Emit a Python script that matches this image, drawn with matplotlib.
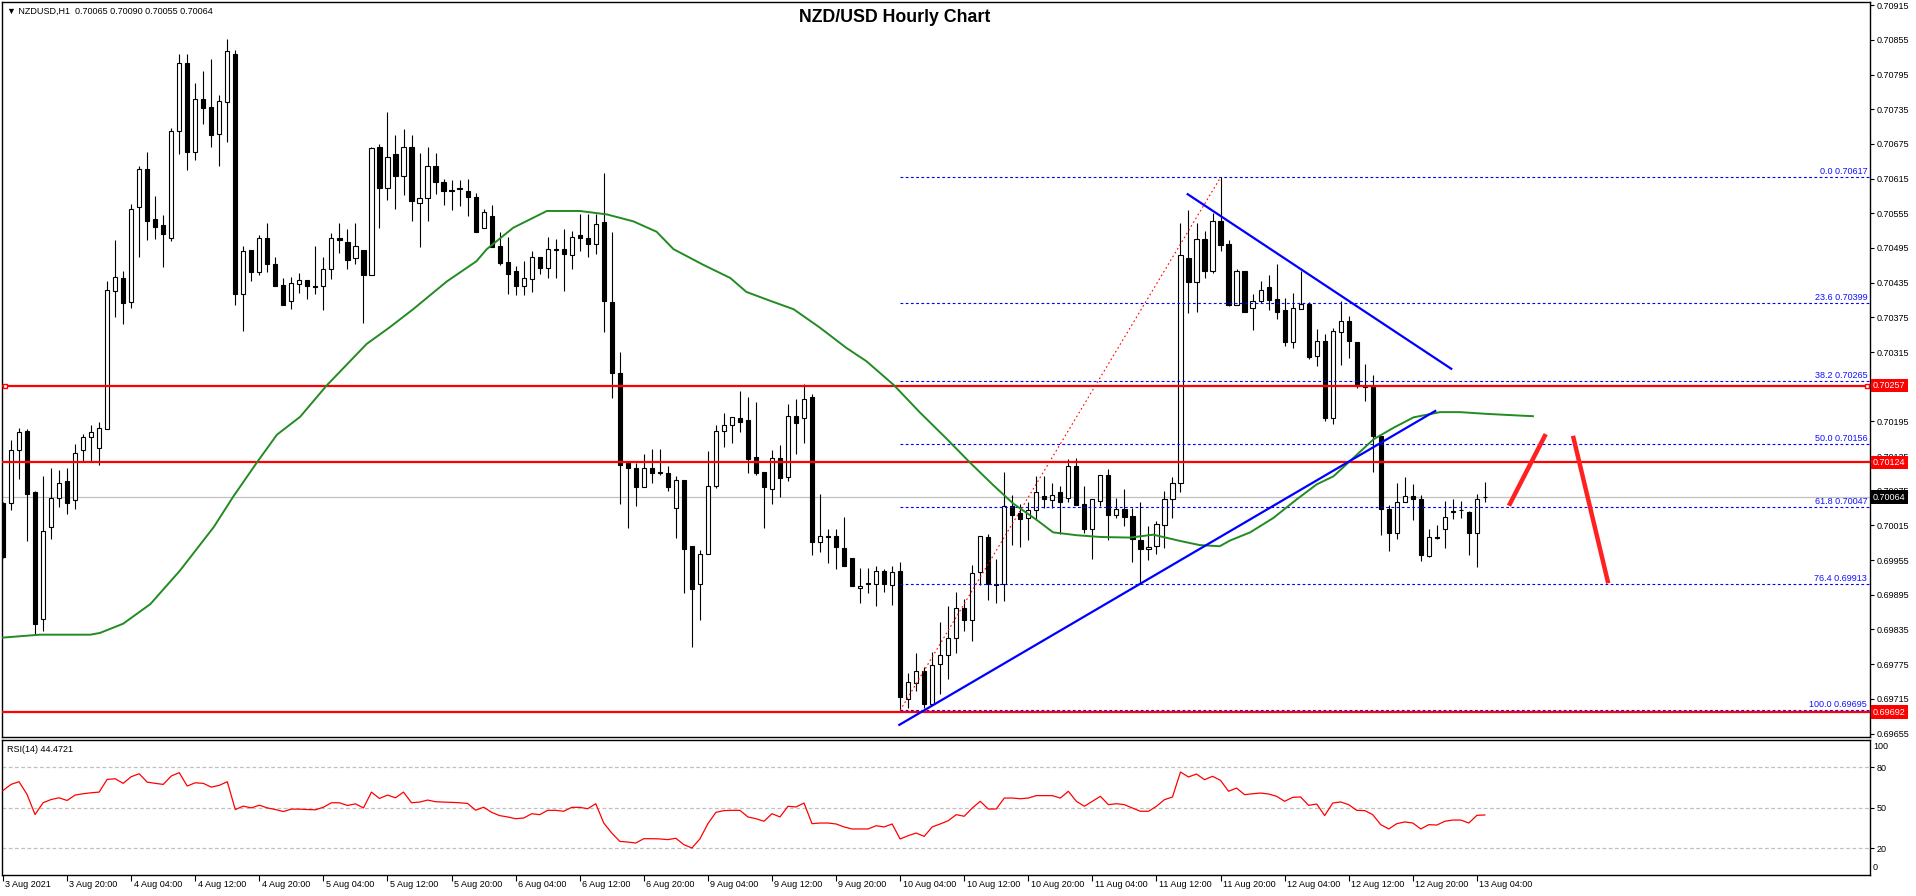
import matplotlib
matplotlib.use('Agg')
import matplotlib.pyplot as plt
from matplotlib.transforms import blended_transform_factory

plt.rcParams['font.family'] = ['Liberation Sans', 'DejaVu Sans']

# ---- hourly candles NZDUSD, 3 Aug 12:00 .. 13 Aug 05:00 (186 bars) ----
opens = [
    0.70053, 0.70053, 0.70146, 0.70179, 0.70073, 0.69853, 0.70012, 0.70063, 0.70092, 0.70059,
    0.70145, 0.70168, 0.70149, 0.70182, 0.70420, 0.70443, 0.70402, 0.70566, 0.70631, 0.70545,
    0.70535, 0.70513, 0.70697, 0.70815, 0.70661, 0.70752, 0.70738, 0.70692, 0.70748, 0.70831,
    0.70416, 0.70491, 0.70453, 0.70513, 0.70467, 0.70431, 0.70404, 0.70433, 0.70439, 0.70430,
    0.70429, 0.70458, 0.70512, 0.70506, 0.70477, 0.70491, 0.70448, 0.70670, 0.70598, 0.70657,
    0.70620, 0.70670, 0.70572, 0.70581, 0.70636, 0.70609, 0.70595, 0.70598, 0.70593, 0.70583,
    0.70530, 0.70550, 0.70499, 0.70470, 0.70456, 0.70430, 0.70441, 0.70480, 0.70460, 0.70491,
    0.70494, 0.70483, 0.70517, 0.70513, 0.70502, 0.70540, 0.70401, 0.70279, 0.70123, 0.70114,
    0.70081, 0.70115, 0.70107, 0.70105, 0.70045, 0.70093, 0.69979, 0.69914, 0.69966, 0.70084,
    0.70178, 0.70189, 0.70200, 0.70197, 0.70133, 0.70107, 0.70078, 0.70132, 0.70098, 0.70204,
    0.70201, 0.70237, 0.69987, 0.69996, 0.69997, 0.69976, 0.69958, 0.69906, 0.69915, 0.69913,
    0.69936, 0.69912, 0.69936, 0.69714, 0.69742, 0.69764, 0.69706, 0.69775, 0.69790, 0.69820,
    0.69873, 0.69852, 0.69934, 0.69995, 0.69914, 0.69914, 0.70048, 0.70036, 0.70027, 0.70041,
    0.70066, 0.70059, 0.70073, 0.70062, 0.70118, 0.70052, 0.70009, 0.70057, 0.70102, 0.70033,
    0.70044, 0.70032, 0.69990, 0.69974, 0.69979, 0.70015, 0.70061, 0.70089, 0.70477, 0.70436,
    0.70510, 0.70455, 0.70542, 0.70501, 0.70396, 0.70456, 0.70391, 0.70403, 0.70428, 0.70406,
    0.70387, 0.70332, 0.70390, 0.70398, 0.70308, 0.70334, 0.70201, 0.70350, 0.70368, 0.70333,
    0.70256, 0.70256, 0.70170, 0.70044, 0.70002, 0.70056, 0.70066, 0.70060, 0.69962, 0.69995,
    0.70009, 0.70039, 0.70041, 0.70038, 0.70002, 0.70065]
highs = [
    0.70056, 0.70162, 0.70184, 0.70182, 0.70075, 0.70100, 0.70114, 0.70111, 0.70115, 0.70156,
    0.70174, 0.70188, 0.70194, 0.70438, 0.70509, 0.70455, 0.70571, 0.70637, 0.70661, 0.70585,
    0.70552, 0.70702, 0.70830, 0.70830, 0.70780, 0.70801, 0.70822, 0.70760, 0.70857, 0.70838,
    0.70499, 0.70491, 0.70518, 0.70538, 0.70480, 0.70443, 0.70445, 0.70452, 0.70439, 0.70498,
    0.70479, 0.70521, 0.70539, 0.70528, 0.70539, 0.70492, 0.70670, 0.70675, 0.70731, 0.70690,
    0.70700, 0.70690, 0.70660, 0.70670, 0.70660, 0.70614, 0.70612, 0.70612, 0.70614, 0.70590,
    0.70562, 0.70569, 0.70522, 0.70514, 0.70463, 0.70472, 0.70489, 0.70480, 0.70514, 0.70510,
    0.70527, 0.70525, 0.70554, 0.70553, 0.70553, 0.70625, 0.70523, 0.70315, 0.70124, 0.70123,
    0.70138, 0.70148, 0.70147, 0.70117, 0.70100, 0.70093, 0.69979, 0.69972, 0.70144, 0.70188,
    0.70210, 0.70203, 0.70247, 0.70237, 0.70228, 0.70107, 0.70145, 0.70155, 0.70225, 0.70233,
    0.70260, 0.70243, 0.70070, 0.70009, 0.70009, 0.70030, 0.69958, 0.69942, 0.69942, 0.69944,
    0.69939, 0.69944, 0.69952, 0.69760, 0.69794, 0.69770, 0.69796, 0.69848, 0.69876, 0.69899,
    0.69887, 0.69947, 0.69997, 0.70000, 0.69957, 0.70107, 0.70068, 0.70052, 0.70056, 0.70100,
    0.70100, 0.70089, 0.70083, 0.70130, 0.70132, 0.70083, 0.70060, 0.70102, 0.70113, 0.70062,
    0.70078, 0.70046, 0.70056, 0.70014, 0.70022, 0.70075, 0.70099, 0.70538, 0.70560, 0.70538,
    0.70524, 0.70555, 0.70617, 0.70508, 0.70458, 0.70456, 0.70416, 0.70438, 0.70449, 0.70468,
    0.70408, 0.70417, 0.70455, 0.70401, 0.70354, 0.70347, 0.70357, 0.70403, 0.70378, 0.70333,
    0.70295, 0.70276, 0.70170, 0.70051, 0.70089, 0.70098, 0.70087, 0.70067, 0.70008, 0.70015,
    0.70057, 0.70060, 0.70057, 0.70040, 0.70070, 0.70090]
lows = [
    0.69959, 0.70042, 0.70096, 0.69988, 0.69827, 0.69832, 0.69991, 0.70047, 0.70035, 0.70044,
    0.70126, 0.70126, 0.70119, 0.70182, 0.70376, 0.70363, 0.70392, 0.70480, 0.70508, 0.70511,
    0.70462, 0.70507, 0.70657, 0.70630, 0.70648, 0.70709, 0.70670, 0.70637, 0.70678, 0.70397,
    0.70351, 0.70437, 0.70449, 0.70454, 0.70430, 0.70397, 0.70389, 0.70417, 0.70407, 0.70416,
    0.70387, 0.70441, 0.70487, 0.70458, 0.70467, 0.70366, 0.70448, 0.70530, 0.70578, 0.70562,
    0.70586, 0.70542, 0.70496, 0.70541, 0.70589, 0.70569, 0.70560, 0.70568, 0.70550, 0.70522,
    0.70530, 0.70497, 0.70466, 0.70416, 0.70413, 0.70413, 0.70418, 0.70450, 0.70443, 0.70443,
    0.70420, 0.70458, 0.70490, 0.70480, 0.70484, 0.70350, 0.70236, 0.70052, 0.70011, 0.70049,
    0.70081, 0.70089, 0.70103, 0.70075, 0.69993, 0.69898, 0.69804, 0.69852, 0.69966, 0.70079,
    0.70150, 0.70158, 0.70176, 0.70105, 0.70103, 0.70011, 0.70052, 0.70065, 0.70092, 0.70138,
    0.70158, 0.69963, 0.69969, 0.69950, 0.69939, 0.69945, 0.69910, 0.69880, 0.69898, 0.69875,
    0.69899, 0.69877, 0.69695, 0.69700, 0.69729, 0.69700, 0.69706, 0.69724, 0.69749, 0.69795,
    0.69833, 0.69815, 0.69912, 0.69886, 0.69881, 0.69885, 0.69982, 0.69978, 0.69989, 0.70024,
    0.70046, 0.70045, 0.70001, 0.70056, 0.70051, 0.70002, 0.69957, 0.70048, 0.69989, 0.70027,
    0.70014, 0.69952, 0.69913, 0.69955, 0.69965, 0.69976, 0.70028, 0.70073, 0.70382, 0.70384,
    0.70443, 0.70452, 0.70489, 0.70395, 0.70396, 0.70384, 0.70353, 0.70399, 0.70387, 0.70372,
    0.70325, 0.70322, 0.70390, 0.70303, 0.70290, 0.70195, 0.70191, 0.70292, 0.70305, 0.70252,
    0.70230, 0.70107, 0.69998, 0.69970, 0.69991, 0.70056, 0.70024, 0.69953, 0.69960, 0.69991,
    0.69976, 0.70026, 0.70028, 0.69963, 0.69943, 0.70055]
closes = [
    0.69960, 0.70146, 0.70177, 0.70070, 0.69845, 0.70006, 0.70063, 0.70088, 0.70053, 0.70141,
    0.70168, 0.70177, 0.70184, 0.70422, 0.70445, 0.70399, 0.70562, 0.70631, 0.70542, 0.70531,
    0.70520, 0.70698, 0.70815, 0.70661, 0.70752, 0.70737, 0.70690, 0.70750, 0.70835, 0.70416,
    0.70489, 0.70453, 0.70512, 0.70467, 0.70430, 0.70397, 0.70434, 0.70439, 0.70429, 0.70428,
    0.70458, 0.70512, 0.70508, 0.70475, 0.70499, 0.70448, 0.70668, 0.70598, 0.70653, 0.70620,
    0.70670, 0.70577, 0.70581, 0.70636, 0.70609, 0.70593, 0.70593, 0.70597, 0.70584, 0.70522,
    0.70558, 0.70497, 0.70469, 0.70450, 0.70430, 0.70443, 0.70480, 0.70460, 0.70494, 0.70494,
    0.70484, 0.70514, 0.70513, 0.70502, 0.70536, 0.70404, 0.70279, 0.70119, 0.70114, 0.70082,
    0.70115, 0.70106, 0.70105, 0.70081, 0.70093, 0.69975, 0.69905, 0.69966, 0.70084, 0.70178,
    0.70189, 0.70203, 0.70194, 0.70130, 0.70106, 0.70082, 0.70132, 0.70097, 0.70204, 0.70193,
    0.70233, 0.69987, 0.69996, 0.69995, 0.69977, 0.69945, 0.69910, 0.69910, 0.69914, 0.69936,
    0.69913, 0.69935, 0.69718, 0.69744, 0.69764, 0.69706, 0.69773, 0.69790, 0.69820, 0.69873,
    0.69851, 0.69932, 0.69997, 0.69913, 0.69912, 0.70048, 0.70033, 0.70026, 0.70041, 0.70073,
    0.70060, 0.70067, 0.70056, 0.70118, 0.70051, 0.70009, 0.70060, 0.70102, 0.70033, 0.70044,
    0.70030, 0.69992, 0.69974, 0.69978, 0.70017, 0.70061, 0.70089, 0.70482, 0.70436, 0.70510,
    0.70455, 0.70542, 0.70500, 0.70397, 0.70456, 0.70384, 0.70403, 0.70422, 0.70405, 0.70384,
    0.70332, 0.70391, 0.70398, 0.70306, 0.70334, 0.70201, 0.70351, 0.70368, 0.70334, 0.70256,
    0.70254, 0.70169, 0.70043, 0.70002, 0.70056, 0.70066, 0.70060, 0.69963, 0.69995, 0.69994,
    0.70030, 0.70040, 0.70042, 0.70002, 0.70061, 0.70064]

# RSI(14), one value per bar
rsi_vals = [
    62.6, 67.1, 69.1, 59.7, 44.8, 53.5, 55.9, 57.2, 55.2, 59.2,
    60.2, 60.9, 61.4, 70.8, 71.3, 67.9, 72.8, 75.0, 68.8, 67.9,
    67.1, 73.3, 75.8, 65.9, 68.3, 67.9, 65.1, 66.4, 69.1, 48.5,
    51.0, 49.7, 51.7, 49.7, 48.5, 47.0, 48.8, 48.8, 48.5, 48.3,
    50.2, 53.5, 53.5, 51.5, 52.7, 49.7, 61.4, 56.7, 59.2, 57.2,
    61.4, 53.5, 54.0, 55.5, 54.3, 54.0, 53.8, 53.5, 53.0, 48.0,
    50.2, 46.4, 44.0, 43.0, 41.7, 42.2, 45.4, 44.7, 47.9, 47.9,
    47.2, 50.1, 50.1, 49.1, 52.8, 38.5, 31.1, 24.9, 24.4, 23.7,
    26.9, 26.9, 26.7, 26.2, 27.2, 22.5, 20.0, 26.7, 38.0, 46.4,
    47.7, 47.9, 47.9, 43.0, 41.7, 39.8, 45.4, 43.0, 50.9, 50.4,
    53.3, 38.0, 38.5, 38.5, 37.8, 35.6, 34.1, 34.1, 34.1, 36.5,
    35.6, 37.8, 26.7, 29.1, 31.1, 28.6, 35.6, 37.8, 40.2, 44.7,
    43.5, 49.6, 54.6, 48.9, 48.9, 57.0, 57.0, 56.5, 57.0, 58.8,
    58.8, 58.8, 57.0, 62.0, 54.6, 50.9, 54.6, 58.3, 52.1, 52.8,
    52.1, 49.6, 47.2, 47.2, 50.9, 55.8, 57.8, 76.3, 72.6, 74.8,
    70.6, 73.1, 70.1, 62.0, 64.4, 59.5, 60.2, 60.7, 60.0, 58.3,
    54.6, 57.5, 57.8, 51.6, 52.6, 44.0, 53.3, 54.1, 52.1, 47.9,
    47.7, 44.7, 37.3, 34.1, 38.0, 39.3, 38.5, 34.1, 37.3, 37.0,
    39.8, 40.7, 40.7, 38.5, 44.2, 44.47]

# moving average (green), read at bar positions
ma_x = [0, 4.6, 10.9, 12.1, 15, 18.4, 22.1, 26.3, 28.8, 31.7, 34.2, 37.1, 40.4, 45.4, 48.3,
        51.2, 55.4, 59.1, 60.4, 63.7, 67.9, 72.0, 75.4, 78.7, 81.6, 83.7, 87.4, 90.8, 92.8,
        95.7, 98.7, 102, 105.3, 107.8, 111.2, 114.5, 117.8, 120.7, 123.6, 126.1, 129.1, 131.1,
        134.1, 137, 140.7, 143.6, 147, 149.4, 151.9, 153.2, 155.7, 158.6, 161.5, 164, 166.1,
        168.6, 171.1, 173.6, 176.1, 179.4, 181.9, 185.2, 189.4, 191]
ma_y = [0.69821, 0.69826, 0.69826, 0.69829, 0.69845, 0.69879, 0.69937, 0.70012, 0.70066,
        0.70124, 0.70172, 0.70203, 0.70257, 0.70329, 0.70358, 0.70389, 0.70437, 0.70472,
        0.70493, 0.70530, 0.70559, 0.70559, 0.70553, 0.70541, 0.70523, 0.70493, 0.70466,
        0.70443, 0.70419, 0.70404, 0.70389, 0.70357, 0.70322, 0.70299, 0.70258, 0.70210,
        0.70165, 0.70124, 0.70085, 0.70053, 0.70024, 0.70003, 0.69998, 0.69995, 0.69994,
        0.69999, 0.69988, 0.69981, 0.69979, 0.69989, 0.70003, 0.70028, 0.70060, 0.70086,
        0.70100, 0.70132, 0.70164, 0.70184, 0.70202, 0.70211, 0.70211, 0.70208, 0.70205, 0.70204]

# drawn objects
fib_pct = ['0.0', '23.6', '38.2', '50.0', '61.8', '76.4', '100.0']
fib_price = [0.70617, 0.70399, 0.70265, 0.70156, 0.70047, 0.69913, 0.69695]
fib_start = 112
fib_diag_x = [112, 152]
fib_diag_y = [0.69695, 0.70617]
red_levels = [0.70257, 0.70124, 0.69692]
last_price = 0.70064
up_line_x = [111.9, 178.8]
up_line_y = [0.69670, 0.70213]
down_line_x = [147.9, 180.8]
down_line_y = [0.70588, 0.70286]
zig1_x = [188.0, 192.6]
zig1_y = [0.70049, 0.70173]
zig2_x = [196.0, 200.4]
zig2_y = [0.70170, 0.69915]

price_ticks = [0.70915, 0.70855, 0.70795, 0.70735, 0.70675, 0.70615, 0.70555, 0.70495,
               0.70435, 0.70375, 0.70315, 0.70255, 0.70195, 0.70135, 0.70075, 0.70015,
               0.69955, 0.69895, 0.69835, 0.69775, 0.69715, 0.69655]
hidden_ticks = [0.70255]   # sits fully under the red 0.70257 box
time_labels = ['3 Aug 2021', '3 Aug 20:00', '4 Aug 04:00', '4 Aug 12:00', '4 Aug 20:00',
               '5 Aug 04:00', '5 Aug 12:00', '5 Aug 20:00', '6 Aug 04:00', '6 Aug 12:00',
               '6 Aug 20:00', '9 Aug 04:00', '9 Aug 12:00', '9 Aug 20:00', '10 Aug 04:00',
               '10 Aug 12:00', '10 Aug 20:00', '11 Aug 04:00', '11 Aug 12:00', '11 Aug 20:00',
               '12 Aug 04:00', '12 Aug 12:00', '12 Aug 20:00', '13 Aug 04:00']
time_label_step = 8

assert len(opens) == len(highs) == len(lows) == len(closes) == len(rsi_vals)

W, H = 1916, 896
fig = plt.figure(figsize=(W / 100, H / 100), dpi=100)
ax = fig.add_axes([2 / W, 1 - 737 / H, 1868 / W, 735 / H])
rsi_ax = fig.add_axes([2 / W, 1 - 875 / H, 1868 / W, 135 / H])

xs = list(range(len(opens)))
x_lim = (-0.125, 233.08)
fs = 6.5

# --- candles ---
ax.vlines(xs, lows, highs, color='black', lw=0.8, zorder=3)
up = [i for i in xs if closes[i] >= opens[i]]
dn = [i for i in xs if closes[i] < opens[i]]
ax.bar(up, [closes[i] - opens[i] for i in up], bottom=[opens[i] for i in up],
       width=0.52, facecolor='white', edgecolor='black', lw=0.8, zorder=4)
ax.bar(dn, [opens[i] - closes[i] for i in dn], bottom=[closes[i] for i in dn],
       width=0.52, facecolor='black', edgecolor='black', lw=0.8, zorder=4)

# current price line
ax.axhline(last_price, color='#C0C0C0', lw=0.9, zorder=1)

# fibonacci levels
for pct, p in zip(fib_pct, fib_price):
    ax.plot([fib_start, x_lim[1]], [p, p], color='#0000FF', lw=0.8,
            ls=(0, (2.5, 2.2)), zorder=5)
    ax.text(0.9985, p + 0.00002, f'{pct} {p:.5f}', transform=blended_transform_factory(ax.transAxes, ax.transData),
            ha='right', va='bottom', color='#1010FF', fontsize=fs, zorder=9)
ax.plot(fib_diag_x, fib_diag_y, color='red', lw=0.8, ls=(0, (1.5, 2.5)), zorder=6)

# support / resistance
for p in red_levels:
    ax.axhline(p, color='#FF0000', lw=1.6, zorder=6)
ax.plot([0.25, 232.7], [red_levels[0]] * 2, ls='none', marker='s', ms=3.5,
        mfc='white', mec='red', mew=1, zorder=7, clip_on=False)

# MA and trend lines
ax.plot(ma_x, ma_y, color='#228B22', lw=1.4, zorder=7)
ax.plot(up_line_x, up_line_y, color='#0000FF', lw=1.6, zorder=8)
ax.plot(down_line_x, down_line_y, color='#0000FF', lw=1.6, zorder=8)
ax.plot(zig1_x, zig1_y, color='#FF2020', lw=3.2, solid_capstyle='butt', zorder=8)
ax.plot(zig2_x, zig2_y, color='#FF2020', lw=3.2, solid_capstyle='butt', zorder=8)

ax.set_xlim(*x_lim)
ax.set_ylim(0.69649, 0.709205)
ax.yaxis.tick_right()
ax.set_yticks(price_ticks)
ax.set_yticklabels(['' if v in hidden_ticks else f'{v:.5f}' for v in price_ticks])
ax.tick_params(axis='y', direction='out', length=3, width=0.8, labelsize=fs, pad=2)
ax.tick_params(axis='x', bottom=False, labelbottom=False)
for s in ax.spines.values():
    s.set_color('black')
    s.set_linewidth(1)

# boxed price labels on the scale
lab_tr = blended_transform_factory(ax.transAxes, ax.transData)
for p in red_levels:
    ax.text(1.0016, p, f'{p:.5f}', transform=lab_tr, ha='left', va='center', color='white',
            fontsize=fs, clip_on=False, zorder=20,
            bbox=dict(boxstyle='square,pad=0.25', fc='#FF0000', ec='none'))
ax.text(1.0016, last_price, f'{last_price:.5f}', transform=lab_tr, ha='left', va='center',
        color='white', fontsize=fs, clip_on=False, zorder=20,
        bbox=dict(boxstyle='square,pad=0.25', fc='black', ec='none'))

ax.text(0.0027, 0.9878, '\u25bc NZDUSD,H1  0.70065 0.70090 0.70055 0.70064',
        transform=ax.transAxes, ha='left', va='center', fontsize=fs, color='black')
fig.text(895 / W, 1 - 18 / H, 'NZD/USD Hourly Chart', ha='center', va='center',
         fontsize=12.8, fontweight='bold', color='black')

# --- RSI panel ---
rsi_ax.plot(xs, rsi_vals, color='#FF0000', lw=0.9, zorder=3)
for lv in [80, 50, 20]:
    rsi_ax.axhline(lv, color='#C0C0C0', lw=0.9, ls=(0, (3, 2)), zorder=1)
rsi_ax.set_xlim(*x_lim)
rsi_ax.set_ylim(0, 100)
rsi_ax.yaxis.tick_right()
rsi_ax.set_yticks([80, 50, 20])
rsi_ax.set_yticklabels(['80', '50', '20'])
rsi_ax.tick_params(axis='y', direction='out', length=3, width=0.8, labelsize=fs, pad=2)
r_tr = blended_transform_factory(rsi_ax.transAxes, rsi_ax.transData)
rsi_ax.text(1.0016, 95.5, '100', transform=r_tr, ha='left', va='center', fontsize=fs, clip_on=False)
rsi_ax.text(1.0016, 5.2, '0', transform=r_tr, ha='left', va='center', fontsize=fs, clip_on=False)
rsi_ax.text(0.0027, 0.933, 'RSI(14) 44.4721', transform=rsi_ax.transAxes, ha='left',
            va='center', fontsize=fs, color='black')

tick_pos = [k * time_label_step for k in range(len(time_labels))]
rsi_ax.set_xticks(tick_pos)
rsi_ax.set_xticklabels([''] * len(tick_pos))
rsi_ax.tick_params(axis='x', direction='out', length=4, width=0.8)
t_tr = blended_transform_factory(rsi_ax.transData, rsi_ax.transAxes)
for pos, lab in zip(tick_pos, time_labels):
    rsi_ax.text(pos + 0.3, -0.074, lab, transform=t_tr, ha='left', va='center',
                fontsize=fs, clip_on=False)
for s in rsi_ax.spines.values():
    s.set_color('black')
    s.set_linewidth(1)

fig.savefig('out.png', dpi=100)
